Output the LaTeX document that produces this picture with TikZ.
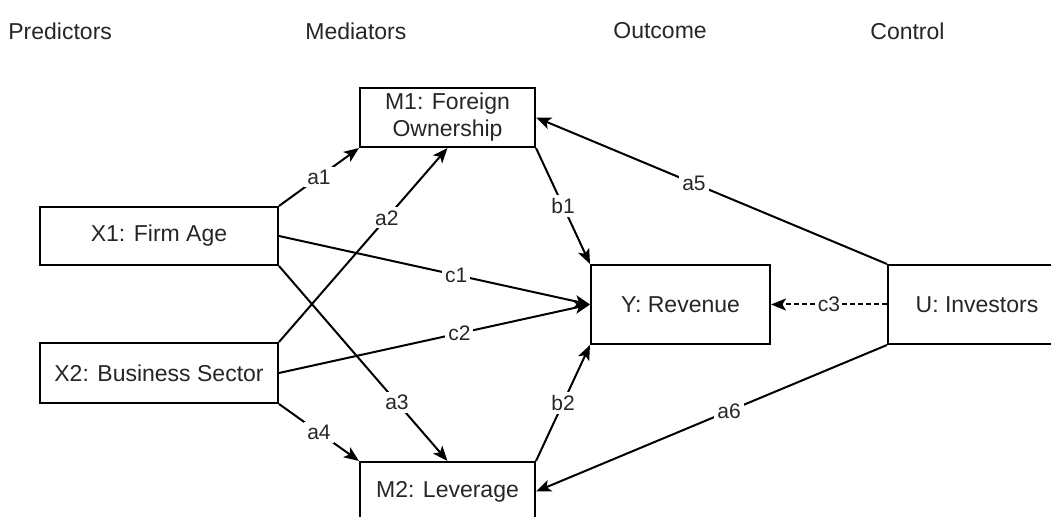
\documentclass[tikz,border=0pt]{standalone}
\usepackage{fontspec}
\setmainfont{Liberation Sans}
\usetikzlibrary{arrows.meta}
\begin{document}
\begin{tikzpicture}[x=0.5pt,y=-0.5pt,
  box/.style={draw, line width=1pt, inner sep=0pt, align=center,
    font=\fontsize{11.5}{13.5}\selectfont, text=black!85},
  title/.style={font=\fontsize{11.5}{13.5}\selectfont, text=black!85, anchor=west, inner sep=0pt},
  conn/.style={line width=1pt, -{Stealth[length=7.5pt,width=6pt,inset=1.8pt]}},
  lab/.style={fill=white, inner sep=1.5pt, font=\fontsize{10.5}{12}\selectfont, text=black!85}]
\clip (0,0) rectangle (1051,517);
\fill[white] (0,0) rectangle (1051,517);
% titles
\node[title] (tp) at (8,31) {Predictors};
\node[title] (tm) at (305,31) {Mediators};
\node[title] (to) at (613,31) {Outcome};
\node[title] (tc) at (870,31) {Control};
% boxes
\node[box, minimum width=119pt, minimum height=29pt] (x1) at (159,236) {X1: Firm Age};
\node[box, minimum width=119pt, minimum height=30pt] (x2) at (159,373) {X2: Business Sector};
\node[box, minimum width=87.5pt, minimum height=29.5pt] (m1) at (447.5,117.5) {M1: Foreign\\Ownership};
\node[box, minimum width=87.5pt, minimum height=29.5pt] (m2) at (447.5,491.5) {M2: Leverage};
\node[box, minimum width=89.5pt, minimum height=39.5pt] (y) at (680.5,304.5) {Y: Revenue};
\node[box, minimum width=89pt, minimum height=39.5pt] (u) at (977,304.5) {U: Investors};
% connectors
\draw[conn] (x1.north east) -- node[lab] {a1} (m1.south west);
\draw[conn] (x2.north east) -- node[lab, pos=0.64] {a2} (m1.south);
\draw[conn] (x1.south east) -- node[lab, pos=0.7] {a3} (m2.north);
\draw[conn] (x2.south east) -- node[lab] {a4} (m2.north west);
\draw[conn] (x1.east) -- node[lab, pos=0.57] {c1} (y.west);
\draw[conn] (x2.east) -- node[lab, pos=0.58] {c2} (y.west);
\draw[conn] (m1.south east) -- node[lab] {b1} (y.north west);
\draw[conn] (m2.north east) -- node[lab] {b2} (y.south west);
\draw[conn] (u.north west) -- node[lab, pos=0.55] {a5} (m1.east);
\draw[conn] (u.south west) -- node[lab, pos=0.45] {a6} (m2.east);
\draw[conn, dash pattern=on 2.5pt off 1.5pt] (u.west) -- node[lab, inner sep=0.8pt] {c3} (y.east);
\end{tikzpicture}
\end{document}
